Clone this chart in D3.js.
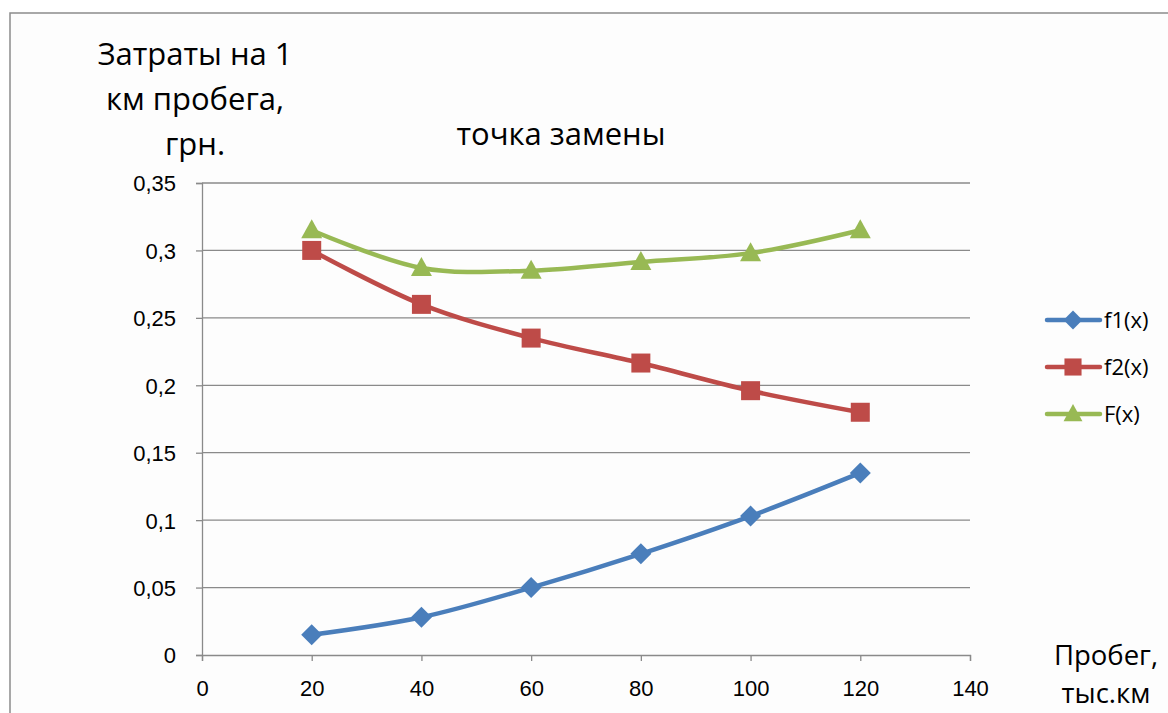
<!DOCTYPE html>
<html>
<head>
<meta charset="utf-8">
<script src="https://cdn.jsdelivr.net/npm/d3@7"></script>
<style>
  html, body { margin: 0; padding: 0; background: #ffffff; }
  svg { display: block; font-family: "Open Sans", "Noto Sans", sans-serif; }
</style>
</head>
<body>
<svg id="chart" width="1168" height="713"></svg>
<script>
// Mileage, thousand km
const mileage = [20, 40, 60, 80, 100, 120];
// Cost per 1 km of run, UAH
const f1 = [0.015, 0.028, 0.050, 0.075, 0.103, 0.135];
const f2 = [0.300, 0.260, 0.235, 0.2165, 0.196, 0.180];
const F  = [0.315, 0.287, 0.285, 0.2915, 0.298, 0.315];

const xTicks = [0, 20, 40, 60, 80, 100, 120, 140];
const yTicks = [0, 0.05, 0.1, 0.15, 0.2, 0.25, 0.3, 0.35];
const seriesNames = ["f1(x)", "f2(x)", "F(x)"];

const svg = d3.select("#chart");

// chart frame
svg.append("rect")
  .attr("x", 10).attr("y", 13)
  .attr("width", 1200).attr("height", 760)
  .attr("fill", "#fdfdfd")
  .attr("stroke", "#8c8c8c").attr("stroke-width", 1.5);

const x = d3.scaleLinear().domain([0, 140]).range([202, 970]);
const y = d3.scaleLinear().domain([0, 0.35]).range([655, 183]);

const fmt = d => d === 0 ? "0" : String(d).replace(".", ",");
const tickFont = "22px";
const titleFont = "31px";

// horizontal gridlines
svg.append("g")
  .selectAll("line")
  .data(yTicks.filter(d => d > 0))
  .join("line")
  .attr("x1", x(0)).attr("x2", x(140))
  .attr("y1", d => y(d)).attr("y2", d => y(d))
  .attr("stroke", "#8a8a8a").attr("stroke-width", 1.3);

// y axis
const yAxis = svg.append("g")
  .attr("transform", `translate(${x(0)},0)`)
  .call(d3.axisLeft(y).tickValues(yTicks).tickFormat(fmt).tickSize(6).tickPadding(20));
// x axis
const xAxis = svg.append("g")
  .attr("transform", `translate(0,${y(0)})`)
  .call(d3.axisBottom(x).tickValues(xTicks).tickFormat(fmt).tickSize(6).tickPadding(19));

[yAxis, xAxis].forEach(g => {
  g.select(".domain").attr("stroke", "#8a8a8a").attr("stroke-width", 1.3);
  g.selectAll(".tick line").attr("stroke", "#8a8a8a").attr("stroke-width", 1.3);
  g.selectAll(".tick text").attr("fill", "#000").style("font-size", tickFont);
});
yAxis.selectAll(".tick text").attr("dy", "0.36em");

const colors = ["#4a7ebb", "#be4b48", "#98b954"];
const data = [f1, f2, F];

const line = d3.line()
  .x((d, i) => x(mileage[i]))
  .y(d => y(d))
  .curve(d3.curveCatmullRom.alpha(0.5));

data.forEach((s, k) => {
  svg.append("path")
    .datum(s)
    .attr("d", line)
    .attr("fill", "none")
    .attr("stroke", colors[k])
    .attr("stroke-width", 4.5)
    .attr("stroke-linejoin", "round");
});

// marker shapes: diamond (rotated square), square, wide triangle
const marker = [
  "M0,-10.5L10.5,0L0,10.5L-10.5,0Z",
  "M-9.5,-9.5H9.5V9.5H-9.5Z",
  "M0,-11L10.5,8H-10.5Z"
];

data.forEach((s, k) => {
  svg.append("g")
    .selectAll("path")
    .data(s)
    .join("path")
    .attr("transform", (d, i) => `translate(${x(mileage[i])},${y(d)})`)
    .attr("d", marker[k])
    .attr("fill", colors[k]);
});

// legend
const legendY = [320, 367, 414];
const lg = svg.append("g");
seriesNames.forEach((name, k) => {
  lg.append("line")
    .attr("x1", 1047).attr("x2", 1100)
    .attr("y1", legendY[k]).attr("y2", legendY[k])
    .attr("stroke", colors[k]).attr("stroke-width", 4.5)
    .attr("stroke-linecap", "round");
  lg.append("path")
    .attr("transform", `translate(1073,${legendY[k]}) scale(0.9)`)
    .attr("d", marker[k])
    .attr("fill", colors[k]);
  lg.append("text")
    .attr("x", 1104).attr("y", legendY[k])
    .attr("dy", "0.36em")
    .style("font-size", tickFont)
    .attr("fill", "#000")
    .text(name);
});

// titles
svg.append("text")
  .attr("x", 561).attr("y", 145)
  .attr("text-anchor", "middle")
  .style("font-size", titleFont)
  .text("точка замены");

const yTitle = ["Затраты на 1", "км пробега,", "грн."];
svg.append("g")
  .selectAll("text")
  .data(yTitle)
  .join("text")
  .attr("x", 195)
  .attr("y", (d, i) => 65 + i * 45)
  .attr("text-anchor", "middle")
  .style("font-size", titleFont)
  .text(d => d);

const xTitle = ["Пробег,", "тыс.км"];
svg.append("g")
  .selectAll("text")
  .data(xTitle)
  .join("text")
  .attr("x", 1106)
  .attr("y", (d, i) => 665 + i * 38)
  .attr("text-anchor", "middle")
  .style("font-size", "27.5px")
  .text(d => d);
</script>
</body>
</html>
